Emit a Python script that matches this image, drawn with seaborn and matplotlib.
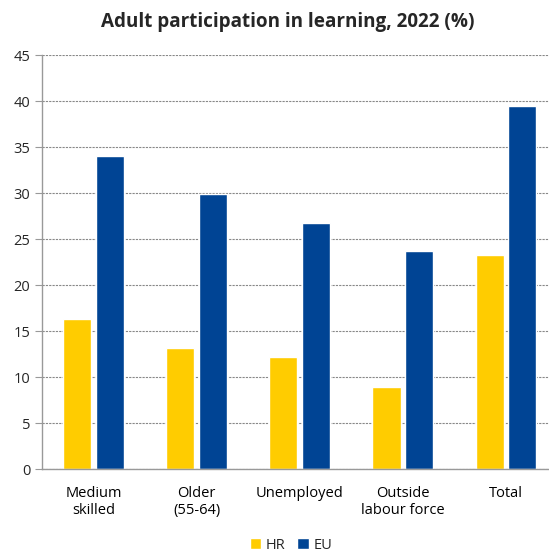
import pandas as pd
import matplotlib.pyplot as plt
import seaborn as sns
from matplotlib.ticker import FixedLocator

# --- data ---
categories = ['Medium\nskilled', 'Older\n(55-64)', 'Unemployed', 'Outside\nlabour force', 'Total']
hr_values = [16.3, 13.2, 12.2, 8.9, 23.3]
eu_values = [34.0, 29.9, 26.8, 23.7, 39.5]
series = ['HR', 'EU']
colors = {'HR': '#FFCC00', 'EU': '#004494'}

df = pd.DataFrame({
    'Category': categories * 2,
    'Series': ['HR'] * len(categories) + ['EU'] * len(categories),
    'Value': hr_values + eu_values,
})

sns.set_style('white')
plt.rcParams['font.family'] = ['Open Sans', 'DejaVu Sans']

fig = plt.figure(figsize=(5.49, 5.52), dpi=100)
ax = fig.add_axes([0.0765, 0.150, 0.939, 0.750])

sns.barplot(data=df, x='Category', y='Value', hue='Series', hue_order=series,
            palette=colors, width=0.635, gap=0.14, ax=ax, legend=True,
            saturation=1)

ax.set_xlim(-0.5, 4.5)
ax.set_ylim(0, 45)
ax.set_yticks(range(0, 46, 5))
ax.yaxis.grid(True, linestyle=(0, (2, 1)), color='#888888', linewidth=0.8)
ax.set_axisbelow(True)

# tick marks sit between categories, labels at centres
ax.tick_params(axis='x', which='major', length=0, labelsize=10.5, pad=12, colors='#000000')
ax.xaxis.set_minor_locator(FixedLocator([-0.5 + i for i in range(6)]))
ax.tick_params(axis='x', which='minor', length=5, color='#999999', direction='out')
ax.tick_params(axis='y', length=5, color='#999999', labelsize=10.5, direction='out', left=True)

for side in ['top', 'right']:
    ax.spines[side].set_visible(False)
for side in ['left', 'bottom']:
    ax.spines[side].set_color('#999999')
    ax.spines[side].set_linewidth(1)

ax.set_xlabel('')
ax.set_ylabel('')

fig.suptitle('Adult participation in learning, 2022 (%)', fontsize=13.6, fontweight='bold', y=0.978, x=0.525)

handles, labels = ax.get_legend_handles_labels()
ax.get_legend().remove()
fig.legend(handles, labels, loc='center', bbox_to_anchor=(0.53, 0.012), ncol=2, frameon=False,
           fontsize=10.5, handlelength=0.8, handleheight=0.8, handletextpad=0.3, columnspacing=0.8)

fig.savefig('out.png', dpi=100)
